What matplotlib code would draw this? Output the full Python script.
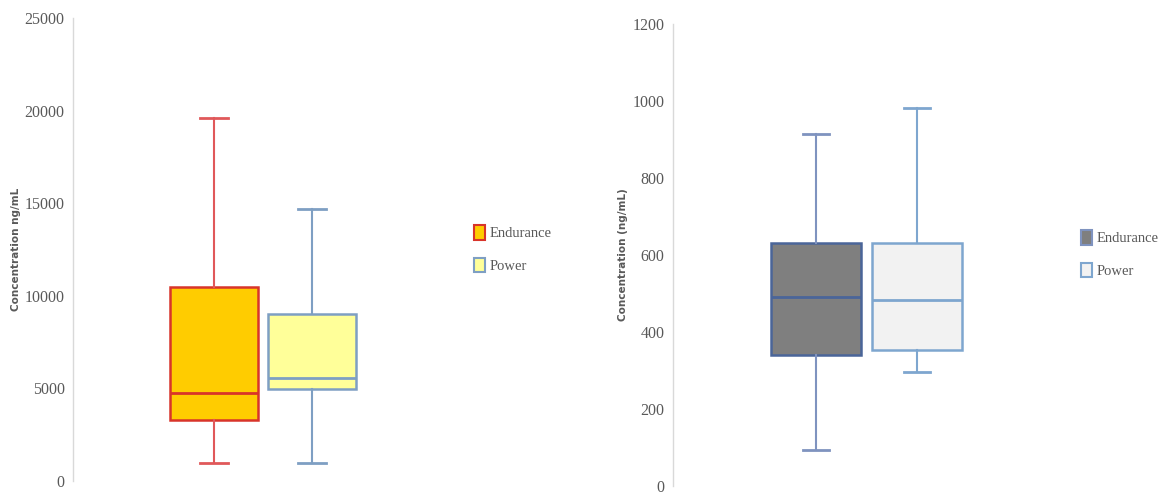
import matplotlib
matplotlib.use("Agg")
import matplotlib.pyplot as plt
from matplotlib.patches import Patch

# data (whisker low, Q1, median, Q3, whisker high)
groups = ["Endurance", "Power"]
left_low = [970, 970]
left_q1 = [3300, 4970]
left_med = [4750, 5560]
left_q3 = [10450, 9000]
left_high = [19600, 14700]
left_ticks = [0, 5000, 10000, 15000, 20000, 25000]

right_low = [93, 295]
right_q1 = [340, 352]
right_med = [490, 482]
right_q3 = [630, 630]
right_high = [914, 982]
right_ticks = [0, 200, 400, 600, 800, 1000, 1200]

left_fill = ["#FFCC00", "#FFFF99"]
left_edge = ["#D8342A", "#7E9FC3"]
left_whisk = ["#E0585A", "#7E9FC3"]
right_fill = ["#7F7F7F", "#F2F2F2"]
right_edge = ["#4A6599", "#7EA6CF"]
right_whisk = ["#7F93BF", "#7EA6CF"]

W, H = 1162, 495
fig = plt.figure(figsize=(W / 100, H / 100), dpi=100)

def px_axes(x0, x1, y_top, y_bot):
    return fig.add_axes([x0 / W, (H - y_bot) / H, (x1 - x0) / W, (y_bot - y_top) / H])

def draw_panel(ax, low, q1, med, q3, high, fills, edges, whisks, ticks, ylabel, width, capw):
    for i, name in enumerate(groups):
        stats = [dict(label=name, whislo=low[i], q1=q1[i], med=med[i], q3=q3[i], whishi=high[i])]
        ax.bxp(stats, positions=[i + 1], widths=width, capwidths=capw,
               showfliers=False, patch_artist=True,
               boxprops=dict(facecolor=fills[i], edgecolor=edges[i], linewidth=1.8),
               medianprops=dict(color=edges[i], linewidth=2),
               whiskerprops=dict(color=whisks[i], linewidth=1.5),
               capprops=dict(color=whisks[i], linewidth=2))
    ax.set_ylim(ticks[0], ticks[-1])
    ax.set_yticks(ticks)
    ax.set_yticklabels([str(t) for t in ticks], family="Liberation Serif",
                       fontsize=11.5, color="#595959")
    ax.tick_params(axis="y", length=0, pad=6)
    ax.set_xticks([])
    for s in ["top", "right", "bottom"]:
        ax.spines[s].set_visible(False)
    ax.spines["left"].set_color("#D9D9D9")
    ax.spines["left"].set_linewidth(1)
    ax.set_ylabel(ylabel, fontsize=7.5, fontweight="bold", color="#595959", family="DejaVu Sans")

def add_legend(handles, x, y):
    fig.legend(handles, groups, loc="center left", bbox_to_anchor=(x / W, (H - y) / H),
               frameon=False, prop=dict(family="Liberation Serif", size=10.5),
               labelcolor="#595959", handlelength=0.75, handleheight=1.15,
               handletextpad=0.35, labelspacing=1.2, borderpad=0, borderaxespad=0)

# left panel
ax1 = px_axes(73, 453, 18, 481)
ax1.set_xlim(1 - 141 / 98, 1 + 239 / 98)
draw_panel(ax1, left_low, left_q1, left_med, left_q3, left_high,
           left_fill, left_edge, left_whisk, left_ticks, "Concentration ng/mL", 0.9, 0.28)
ax1.yaxis.set_label_coords(-52 / 380, 0.5)
h1 = [Patch(facecolor=left_fill[i], edgecolor=left_edge[i], linewidth=1.5) for i in range(2)]
add_legend(h1, 474, 249)

# right panel
ax2 = px_axes(673, 1060, 24, 486)
ax2.set_xlim(1 - 143 / 101, 1 + 244 / 101)
draw_panel(ax2, right_low, right_q1, right_med, right_q3, right_high,
           right_fill, right_edge, right_whisk, right_ticks, "Concentration (ng/mL)", 0.89, 0.26)
ax2.yaxis.set_label_coords(-45 / 387, 0.5)
h2 = [Patch(facecolor=right_fill[i], edgecolor=right_whisk[i], linewidth=1.5) for i in range(2)]
add_legend(h2, 1081, 254)

fig.savefig("out.png", dpi=100)
